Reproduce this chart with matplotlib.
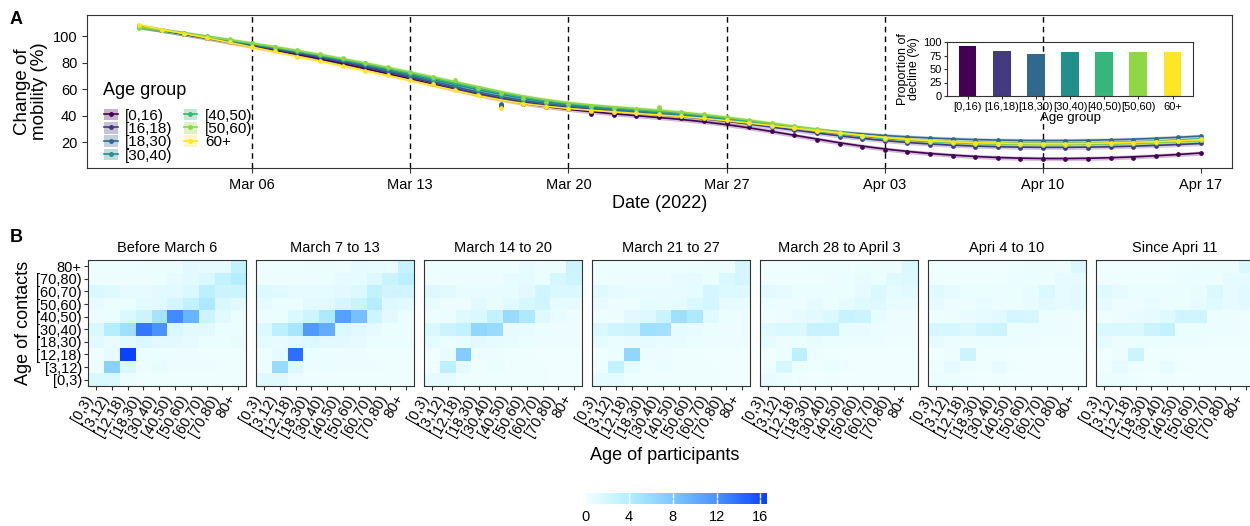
import numpy as np
import pandas as pd
import matplotlib
matplotlib.use("Agg")
import matplotlib.pyplot as plt
import matplotlib.dates as mdates
from matplotlib.colors import LinearSegmentedColormap, Normalize
from matplotlib.lines import Line2D
from matplotlib.patches import Patch

plt.rcParams['font.family'] = ['Liberation Sans', 'DejaVu Sans']

# ---- panel A data ----
groups = ['[0,16)', '[16,18)', '[18,30)', '[30,40)', '[40,50)', '[50,60)', '60+']
colors = ['#440154', '#443983', '#31688E', '#21908C', '#35B779', '#8FD744', '#FDE725']
dates = pd.date_range('2022-03-01', '2022-04-17', freq='D')

mob_0_16 = [107.5, 104.5, 101.5, 98.5, 95.5, 92.5, 89.5, 86.5, 83.5, 80, 76, 71.5, 67.5,
            64, 60, 56, 48, 48.5, 46.5, 45,
            41.5, 40.5, 40, 39, 38, 36, 34.3,
            31.6, 28.6, 25.3, 21.5, 18.5, 16, 14,
            12.2, 10.7, 9.7, 8.5, 7.7, 7.2, 7,
            7, 7.2, 7.7, 8.2, 9.4, 10.7, 11.9]
mob_16_18 = [107.5, 104.5, 102, 99, 96, 93, 90, 87.5, 84.5, 81, 77.5, 73, 69,
             65, 61, 57, 47.5, 50, 47.5, 46,
             44, 43, 42, 41, 40, 38.5, 36,
             34, 31.5, 29, 26.5, 24, 22, 20.5,
             19, 18, 17, 16.5, 16, 15.8, 15.7,
             15.7, 15.8, 16, 16.5, 17.3, 18.2, 19]
mob_18_30 = [107, 104.5, 102, 99.5, 96.5, 93.5, 91, 88, 85, 82, 78.5, 74, 70,
             66.5, 62, 58, 49, 51, 48.5, 47,
             45, 44, 43, 42, 41, 39.5, 37.5,
             35.5, 33, 31, 29, 27, 25.5, 24.5,
             23.5, 22.7, 22, 21.5, 21.2, 21, 20.8,
             20.8, 21, 21.3, 21.8, 22.5, 23.5, 24.8]
mob_30_40 = [107, 104.5, 102, 99.5, 97, 94, 91, 88.5, 85.5, 82.5, 79, 75, 71,
             67, 63, 59, 55, 51.5, 49, 47.5,
             45.5, 44.5, 43.5, 42.5, 41.5, 40, 38,
             36, 33, 30.5, 28, 25.5, 23.5, 22,
             21, 20.2, 19.7, 19.3, 19, 18.8, 18.7,
             18.7, 18.8, 19.1, 19.6, 20.3, 21.3, 22.5]
mob_40_50 = [107, 104.5, 102.5, 100, 97, 94.5, 92, 89, 86, 83, 79.5, 76, 72,
             68, 65.5, 60, 56, 52.5, 50, 48,
             46.5, 45.5, 44.5, 45, 42, 40.5, 38.5,
             36, 33.5, 31, 28.5, 26, 24, 22,
             20.8, 19.8, 19.2, 18.7, 18.3, 18.1, 18,
             18, 18.1, 18.4, 18.9, 19.6, 20.5, 21.5]
mob_50_60 = [106.5, 104.5, 102.5, 100, 97.5, 95, 92, 89.5, 86.5, 83.5, 80, 76.5, 73,
             69.5, 67, 61, 57, 53, 50.5, 48.5,
             47, 46, 45, 46.5, 43, 41, 39,
             37, 34.5, 32, 29.5, 27, 24.5, 22.5,
             21, 20, 19.3, 18.8, 18.4, 18.2, 18.1,
             18.1, 18.2, 18.5, 19, 19.7, 20.5, 21.3]
mob_60 = [108.5, 105, 102, 99, 95.5, 92, 88.5, 84.5, 81, 77.5, 74, 70.5, 67,
          63.5, 59.5, 55.5, 46, 48.5, 46.5, 45,
          43.5, 42.5, 42, 41, 40, 38.5, 36.5,
          34.5, 32.5, 30.5, 28.5, 26.5, 24.5, 22.8,
          21.5, 20.5, 19.8, 19.3, 18.9, 18.6, 18.5,
          18.5, 18.7, 19, 19.5, 20.2, 21, 22]
series = [mob_0_16, mob_16_18, mob_18_30, mob_30_40, mob_40_50, mob_50_60, mob_60]

week_lines = ['2022-03-06', '2022-03-13', '2022-03-20', '2022-03-27', '2022-04-03', '2022-04-10']
date_ticks = ['2022-03-06', '2022-03-13', '2022-03-20', '2022-03-27', '2022-04-03',
              '2022-04-10', '2022-04-17']

decline = [93, 84, 78, 82, 82, 82, 82]

# ---- panel B data (rows: contacts [0,3) .. 80+, cols: participants) ----
ages = ['[0,3)', '[3,12)', '[12,18)', '[18,30)', '[30,40)', '[40,50)', '[50,60)',
        '[60,70)', '[70,80)', '80+']
periods = ['Before March 6', 'March 7 to 13', 'March 14 to 20', 'March 21 to 27',
           'March 28 to April 3', 'Apri 4 to 10', 'Since Apri 11']

cm_before_mar6 = [
    [1.5, 1.5, 0.3, 0.2, 0.2, 0.2, 0.2, 0.2, 0.2, 0.2],
    [0.3, 7.0, 1.5, 0.3, 0.6, 0.3, 0.3, 0.3, 0.2, 0.2],
    [0.2, 0.8, 16.5, 0.5, 0.4, 0.3, 0.3, 0.2, 0.2, 0.2],
    [1.0, 0.6, 1.0, 1.5, 1.0, 1.0, 0.8, 0.5, 0.4, 0.6],
    [1.5, 4.0, 5.5, 13.5, 12.0, 1.5, 1.0, 1.0, 0.5, 0.5],
    [0.3, 0.5, 1.5, 2.5, 5.0, 12.5, 9.5, 2.5, 1.0, 0.5],
    [0.8, 0.5, 0.5, 1.0, 1.0, 2.0, 3.0, 4.5, 1.5, 1.0],
    [1.5, 1.2, 0.8, 0.8, 1.0, 1.0, 1.5, 3.5, 2.5, 2.5],
    [0.3, 0.3, 0.3, 0.3, 0.5, 0.8, 1.0, 1.5, 3.0, 4.0],
    [0.2, 0.2, 0.2, 0.3, 0.3, 0.3, 1.0, 0.8, 0.8, 3.0]]
cm_mar7_13 = [
    [1.2, 1.2, 0.3, 0.2, 0.2, 0.2, 0.2, 0.2, 0.2, 0.2],
    [0.3, 6.0, 1.2, 0.3, 0.5, 0.3, 0.3, 0.3, 0.2, 0.2],
    [0.2, 0.8, 14.0, 0.5, 0.4, 0.3, 0.3, 0.2, 0.2, 0.2],
    [0.9, 0.6, 1.0, 1.4, 1.0, 1.0, 0.8, 0.5, 0.4, 0.5],
    [1.4, 3.5, 4.8, 11.5, 10.0, 1.4, 1.0, 0.9, 0.5, 0.5],
    [0.3, 0.5, 1.5, 2.3, 4.5, 11.0, 8.5, 2.3, 1.0, 0.5],
    [0.8, 0.5, 0.5, 1.0, 1.0, 1.8, 2.6, 3.8, 1.3, 1.0],
    [1.4, 1.1, 0.8, 0.8, 0.9, 1.0, 1.4, 3.0, 2.2, 2.2],
    [0.3, 0.3, 0.3, 0.3, 0.5, 0.8, 0.9, 1.4, 2.6, 3.5],
    [0.2, 0.2, 0.2, 0.3, 0.3, 0.3, 0.9, 0.7, 0.7, 2.8]]
cm_mar14_20 = [
    [0.8, 0.8, 0.2, 0.2, 0.2, 0.2, 0.2, 0.2, 0.1, 0.1],
    [0.2, 3.5, 0.8, 0.2, 0.5, 0.2, 0.2, 0.2, 0.1, 0.1],
    [0.1, 0.6, 7.5, 0.3, 0.3, 0.2, 0.2, 0.1, 0.1, 0.1],
    [0.9, 0.5, 0.7, 1.0, 0.8, 0.7, 0.5, 0.3, 0.3, 0.3],
    [1.5, 2.5, 3.0, 6.5, 6.0, 0.8, 0.6, 0.5, 0.3, 0.3],
    [0.2, 0.4, 1.2, 1.5, 3.0, 6.0, 4.5, 1.2, 0.6, 0.3],
    [0.7, 0.3, 0.3, 1.0, 0.6, 1.0, 1.8, 2.2, 0.9, 0.8],
    [1.3, 1.0, 0.6, 0.6, 0.7, 0.7, 1.0, 2.2, 1.5, 1.5],
    [0.2, 0.3, 0.3, 0.3, 0.3, 0.7, 0.9, 0.5, 1.8, 2.3],
    [0.2, 0.2, 0.2, 0.2, 0.2, 0.2, 0.6, 0.3, 0.3, 2.5]]
cm_mar21_27 = [
    [0.8, 0.8, 0.2, 0.2, 0.2, 0.2, 0.2, 0.2, 0.1, 0.1],
    [0.2, 3.0, 0.7, 0.2, 0.5, 0.2, 0.2, 0.2, 0.1, 0.1],
    [0.1, 0.5, 6.5, 0.3, 0.3, 0.2, 0.2, 0.1, 0.1, 0.1],
    [0.9, 0.4, 0.6, 0.9, 0.7, 0.6, 0.5, 0.3, 0.3, 0.3],
    [1.5, 2.2, 2.5, 5.5, 5.3, 0.8, 0.6, 0.5, 0.3, 0.3],
    [0.2, 0.3, 1.0, 1.3, 2.7, 5.5, 4.5, 1.1, 0.5, 0.3],
    [0.6, 0.3, 0.3, 0.9, 0.6, 0.9, 1.5, 2.0, 0.8, 0.7],
    [1.2, 0.9, 0.6, 0.6, 0.6, 0.6, 0.9, 2.0, 1.3, 1.3],
    [0.2, 0.3, 0.3, 0.3, 0.3, 0.6, 0.8, 0.5, 1.6, 2.0],
    [0.2, 0.2, 0.2, 0.2, 0.2, 0.2, 0.5, 0.3, 0.3, 2.0]]
cm_mar28_apr3 = [
    [0.6, 0.5, 0.2, 0.1, 0.2, 0.1, 0.1, 0.1, 0.1, 0.1],
    [0.2, 1.8, 0.5, 0.2, 0.5, 0.2, 0.1, 0.1, 0.1, 0.1],
    [0.1, 0.4, 3.5, 0.3, 0.2, 0.1, 0.1, 0.1, 0.1, 0.1],
    [0.8, 0.3, 0.5, 0.7, 0.5, 0.5, 0.4, 0.3, 0.2, 0.2],
    [1.2, 1.5, 1.5, 2.8, 2.8, 0.7, 0.6, 0.5, 0.3, 0.3],
    [0.2, 0.3, 0.8, 1.0, 1.5, 2.8, 2.5, 0.7, 0.4, 0.3],
    [0.5, 0.3, 0.3, 0.8, 0.5, 0.8, 1.2, 1.3, 0.7, 0.6],
    [1.0, 0.8, 0.5, 0.5, 0.5, 0.5, 0.8, 1.5, 0.9, 1.0],
    [0.2, 0.2, 0.2, 0.2, 0.3, 0.5, 0.6, 0.5, 1.2, 1.4],
    [0.1, 0.1, 0.1, 0.2, 0.2, 0.2, 0.5, 0.3, 0.3, 1.6]]
cm_apr4_10 = [
    [0.4, 0.4, 0.2, 0.1, 0.2, 0.1, 0.1, 0.1, 0.1, 0.1],
    [0.2, 0.8, 0.3, 0.2, 0.6, 0.2, 0.1, 0.1, 0.1, 0.1],
    [0.1, 0.3, 2.5, 0.2, 0.2, 0.1, 0.1, 0.1, 0.1, 0.1],
    [0.8, 0.3, 0.4, 0.5, 0.4, 0.4, 0.3, 0.2, 0.2, 0.2],
    [1.8, 1.8, 1.5, 2.2, 2.5, 0.5, 0.4, 0.4, 0.3, 0.2],
    [0.2, 0.3, 0.6, 0.8, 1.0, 2.0, 1.8, 0.4, 0.3, 0.2],
    [0.8, 0.3, 0.3, 0.7, 0.4, 0.5, 0.7, 1.0, 0.8, 1.0],
    [1.2, 0.8, 0.5, 0.5, 0.4, 0.5, 0.6, 1.5, 0.8, 1.0],
    [0.2, 0.2, 0.2, 0.2, 0.2, 0.4, 0.5, 0.4, 0.8, 0.8],
    [0.1, 0.1, 0.1, 0.1, 0.1, 0.2, 0.3, 0.3, 0.3, 1.5]]
cm_since_apr11 = [
    [0.4, 0.4, 0.2, 0.1, 0.2, 0.1, 0.1, 0.1, 0.1, 0.1],
    [0.2, 0.8, 0.3, 0.2, 0.6, 0.2, 0.1, 0.1, 0.1, 0.1],
    [0.1, 0.3, 2.5, 0.2, 0.2, 0.1, 0.1, 0.1, 0.1, 0.1],
    [0.8, 0.3, 0.4, 0.5, 0.4, 0.4, 0.3, 0.2, 0.2, 0.2],
    [1.5, 1.5, 1.5, 2.5, 3.0, 0.5, 0.4, 0.4, 0.3, 0.2],
    [0.2, 0.3, 0.6, 0.8, 1.2, 2.2, 2.2, 0.4, 0.3, 0.2],
    [0.8, 0.3, 0.3, 0.7, 0.4, 0.5, 0.8, 1.2, 0.8, 1.0],
    [1.2, 0.8, 0.5, 0.5, 0.4, 0.5, 0.6, 1.5, 0.8, 1.0],
    [0.2, 0.2, 0.2, 0.2, 0.2, 0.4, 0.5, 0.4, 0.8, 0.8],
    [0.1, 0.1, 0.1, 0.1, 0.1, 0.2, 0.3, 0.3, 0.3, 1.5]]
matrices = [cm_before_mar6, cm_mar7_13, cm_mar14_20, cm_mar21_27, cm_mar28_apr3,
            cm_apr4_10, cm_since_apr11]

cbar_ticks = [0, 4, 8, 12, 16]


def smooth(t, y, grid, bw=2.2):
    # local linear fit with gaussian weights (loess-like)
    y = np.asarray(y, float)
    out = []
    for g in grid:
        w = np.sqrt(np.exp(-0.5 * ((t - g) / bw) ** 2))
        X = np.vstack([np.ones_like(t), t - g]).T
        beta = np.linalg.lstsq(X * w[:, None], y * w, rcond=None)[0]
        out.append(beta[0])
    return np.array(out)


W, H = 1250, 526


def box(l, t, r, b):
    return [l / W, 1 - b / H, (r - l) / W, (b - t) / H]


edge = '#333333'
fig = plt.figure(figsize=(12.5, 5.26), dpi=100)

# ---------------- panel A ----------------
ax = fig.add_axes(box(87, 15, 1232, 168))
xnum = mdates.date2num(dates)
fine = np.linspace(xnum[0], xnum[-1], 300)
for d in week_lines:
    ax.axvline(mdates.datestr2num(d), color='black', ls=(0, (4, 3)), lw=1, zorder=1)
for vals, c in zip(series, colors):
    sm = smooth(xnum, vals, fine)
    ax.fill_between(fine, sm - 1.6, sm + 1.6, color=c, alpha=0.25, lw=0, zorder=2)
    ax.plot(fine, sm, color=c, lw=1.2, zorder=3)
    ax.plot(xnum, vals, 'o', color=c, ms=2.4, zorder=3)
ax.set_xlim(xnum[0] - 2.31, xnum[-1] + 1.37)
ax.set_ylim(0.4, 116)
ax.set_yticks([20, 40, 60, 80, 100])
ax.set_xticks(mdates.datestr2num(date_ticks))
ax.xaxis.set_major_formatter(mdates.DateFormatter('%b %d'))
ax.tick_params(labelsize=10.5, color=edge, length=3.5, labelcolor='black')
for s in ax.spines.values():
    s.set_color(edge)
ax.set_xlabel('Date (2022)', fontsize=13, labelpad=2)
ax.set_ylabel('Change of\nmobility (%)', fontsize=13.5, linespacing=1.0, labelpad=3)

# legend: title as separate text so the gap below it matches
ax.text((103 - 87) / (1232 - 87), (168 - 90) / (168 - 15), 'Age group',
        transform=ax.transAxes, fontsize=13, ha='left', va='center')
handles = [(Patch(facecolor=c, alpha=0.3, edgecolor='none'),
            Line2D([], [], color=c, marker='o', ms=2.5, lw=1.2)) for c in colors]
leg = ax.legend(handles, groups, ncol=2, frameon=False,
                fontsize=11, loc='upper left',
                bbox_to_anchor=(0.0135, (168 - 107) / (168 - 15)), handlelength=0.9,
                handleheight=0.8, handletextpad=0.5, columnspacing=0.7,
                labelspacing=-0.05, borderpad=0.1, borderaxespad=0)

# inset: proportion of decline
ins = fig.add_axes(box(947, 42, 1193, 96))
ins.patch.set_alpha(0)
ins.bar(range(len(groups)), decline, width=0.52, color=colors)
ins.set_xlim(-0.6, 6.6)
ins.set_ylim(0, 100)
ins.set_yticks([0, 25, 50, 75, 100])
ins.set_xticks(range(len(groups)))
ins.set_xticklabels(groups)
ins.tick_params(labelsize=8, length=2.5, pad=1.5, color=edge)
for s in ins.spines.values():
    s.set_color(edge)
ins.set_ylabel('Proportion of\ndecline (%)', fontsize=9, linespacing=0.95, labelpad=2)
ins.set_xlabel('Age group', fontsize=9.5, labelpad=0)

# ---------------- panel B ----------------
cmap = LinearSegmentedColormap.from_list(
    'contacts', [(0, '#F2FFFF'), (4 / 16.6, '#B4EEFF'), (8 / 16.6, '#7CC8FF'),
                 (12 / 16.6, '#4A93FF'), (1, '#0A40FF')])
norm = Normalize(vmin=0, vmax=16.6)
for i, (mat, title) in enumerate(zip(matrices, periods)):
    l = 88 + i * 168
    hax = fig.add_axes(box(l, 260, l + 158, 386))
    im = hax.imshow(np.array(mat), origin='lower', cmap=cmap, norm=norm,
                    aspect='auto', interpolation='nearest')
    hax.set_xticks(range(10))
    hax.set_xticklabels(ages, rotation=60, ha='right', va='top', rotation_mode='default')
    hax.set_yticks(range(10))
    if i == 0:
        hax.set_yticklabels(ages)
        hax.set_ylabel('Age of contacts', fontsize=13, labelpad=3)
    else:
        hax.tick_params(axis='y', left=False, labelleft=False)
    hax.tick_params(labelsize=10.5, length=3, pad=1.5, color=edge)
    for s in hax.spines.values():
        s.set_color(edge)
    hax.set_title(title, fontsize=10.5, pad=6)

fig.text(665 / W, 1 - 455 / H, 'Age of participants', fontsize=13, ha='center', va='center')

cax = fig.add_axes(box(585, 493, 767, 504))
cb = fig.colorbar(im, cax=cax, orientation='horizontal', ticks=cbar_ticks)
cb.outline.set_visible(False)
cax.tick_params(direction='in', color='white', length=3.5, width=1, labelsize=10.5,
                top=True, pad=4)

fig.text(10 / W, 1 - 20 / H, 'A', fontsize=13, fontweight='bold', va='center')
fig.text(10 / W, 1 - 237 / H, 'B', fontsize=13, fontweight='bold', va='center')

fig.savefig('out.png', dpi=100)
